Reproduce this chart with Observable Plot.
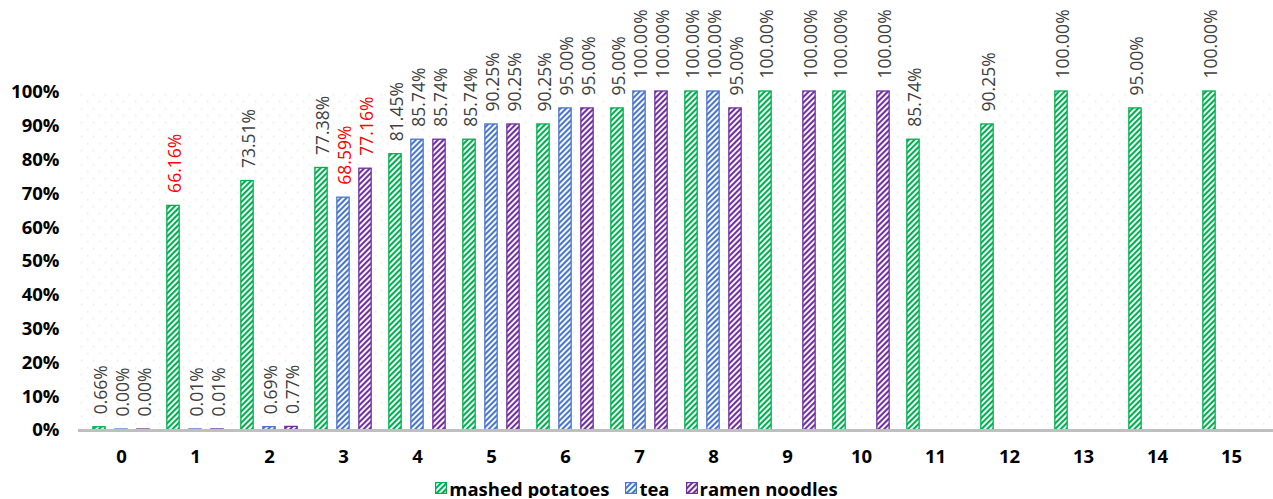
<!DOCTYPE html>
<html>
<head>
<meta charset="utf-8">
<script src="https://cdn.jsdelivr.net/npm/d3@7"></script>
<script src="https://cdn.jsdelivr.net/npm/@observablehq/plot@0.6"></script>
<style>
  body { margin: 0; background: #fff; font-family: "Open Sans", sans-serif; }
  #legend { display: flex; justify-content: center; align-items: center; margin-top: 8px; height: 20px; font-weight: bold; font-size: 18.5px; color: #000; }
  .item { display: flex; align-items: center; margin: 0 8px; }
  .item svg { margin-right: 2px; }
</style>
</head>
<body>
<svg width="0" height="0" style="position:absolute"><defs id="defs"></defs></svg>
<div id="chart"></div>
<div id="legend"></div>
<script>
const categories = ["0","1","2","3","4","5","6","7","8","9","10","11","12","13","14","15"];
const seriesNames = ["mashed potatoes", "tea", "ramen noodles"];
const seriesColors = ["#00b050", "#4a76cc", "#7030a0"];
const mashedPotatoes = [0.66, 66.16, 73.51, 77.38, 81.45, 85.74, 90.25, 95.00, 100.00, 100.00, 100.00, 85.74, 90.25, 100.00, 95.00, 100.00];
const tea = [0.00, 0.01, 0.69, 68.59, 85.74, 90.25, 95.00, 100.00, 100.00, null, null, null, null, null, null, null];
const ramenNoodles = [0.00, 0.01, 0.77, 77.16, 85.74, 90.25, 95.00, 100.00, 95.00, 100.00, 100.00, null, null, null, null, null];
// labels shown in red: [series index, category]
const redLabels = [[0, "1"], [1, "3"], [2, "3"]];
const yTicks = [0, 10, 20, 30, 40, 50, 60, 70, 80, 90, 100];

const seriesValues = [mashedPotatoes, tea, ramenNoodles];

// patterns
const defs = document.getElementById("defs");
let defsHtml = `<pattern id="dots" patternUnits="userSpaceOnUse" width="12" height="14">
  <rect x="2.5" y="2.5" width="1.2" height="1.2" fill="#d6d6d6"/>
  <rect x="8.5" y="9.5" width="1.2" height="1.2" fill="#d6d6d6"/></pattern>`;
seriesColors.forEach((c, i) => {
  defsHtml += `<pattern id="hatch${i}" patternUnits="userSpaceOnUse" width="4" height="4" patternTransform="rotate(45)">
    <rect width="4" height="4" fill="#fff"/><rect width="2.1" height="4" fill="${c}"/></pattern>`;
});
defs.innerHTML = defsHtml;

const W = 1273, H = 470;
const mL = 78, mR = 0, mT = 92, mB = 40;
const bandW = (W - mL - mR) / categories.length;
const barW = 13;
const inset = (bandW - barW) / 2;
const offsets = [-22, 0, 22];

const isRed = (s, c) => redLabels.some(([rs, rc]) => rs === s && rc === c);

const marks = [
  Plot.frame({fill: "url(#dots)", stroke: null}),
];
seriesValues.forEach((vals, s) => {
  const rows = categories.map((c, i) => ({cat: c, value: vals[i], s})).filter(d => d.value != null);
  marks.push(Plot.barY(rows, {
    x: "cat", y: "value", dx: offsets[s],
    insetLeft: inset, insetRight: inset, insetTop: -1, insetBottom: -1,
    fill: `url(#hatch${s})`, stroke: seriesColors[s], strokeWidth: 1.3
  }));
  marks.push(Plot.text(rows, {
    x: "cat", y: "value", dx: offsets[s] + 1.5, dy: -14,
    text: d => d.value.toFixed(2) + "%",
    rotate: -90, textAnchor: "start", lineAnchor: "middle",
    fill: d => isRed(s, d.cat) ? "#ff0000" : "#404040",
    fontSize: 17.5
  }));
});
marks.push(Plot.ruleY([0], {stroke: "#bfbfbf", strokeWidth: 3}));
marks.push(Plot.axisY({ticks: yTicks, tickSize: 0, tickPadding: 19, tickFormat: d => d + "%", fontWeight: "bold", fontSize: 18.5, fill: "#000"}));
marks.push(Plot.axisX({tickSize: 0, tickPadding: 19, fontWeight: "bold", fontSize: 18.5, fill: "#000"}));

const chart = Plot.plot({
  width: W, height: H,
  marginLeft: mL, marginRight: mR, marginTop: mT, marginBottom: mB,
  style: {fontFamily: "Open Sans", fontSize: "17px", background: "#fff", overflow: "visible"},
  x: {type: "band", domain: categories, padding: 0, label: null},
  y: {domain: [0, 100], label: null},
  marks
});
document.getElementById("chart").appendChild(chart);

const legend = document.getElementById("legend");
seriesNames.forEach((name, i) => {
  const item = document.createElement("div");
  item.className = "item";
  item.innerHTML = `<svg width="12" height="12"><rect x="0.6" y="0.6" width="10.8" height="10.8" fill="url(#hatch${i})" stroke="${seriesColors[i]}" stroke-width="1.2"/></svg><span>${name}</span>`;
  legend.appendChild(item);
});
</script>
</body>
</html>
